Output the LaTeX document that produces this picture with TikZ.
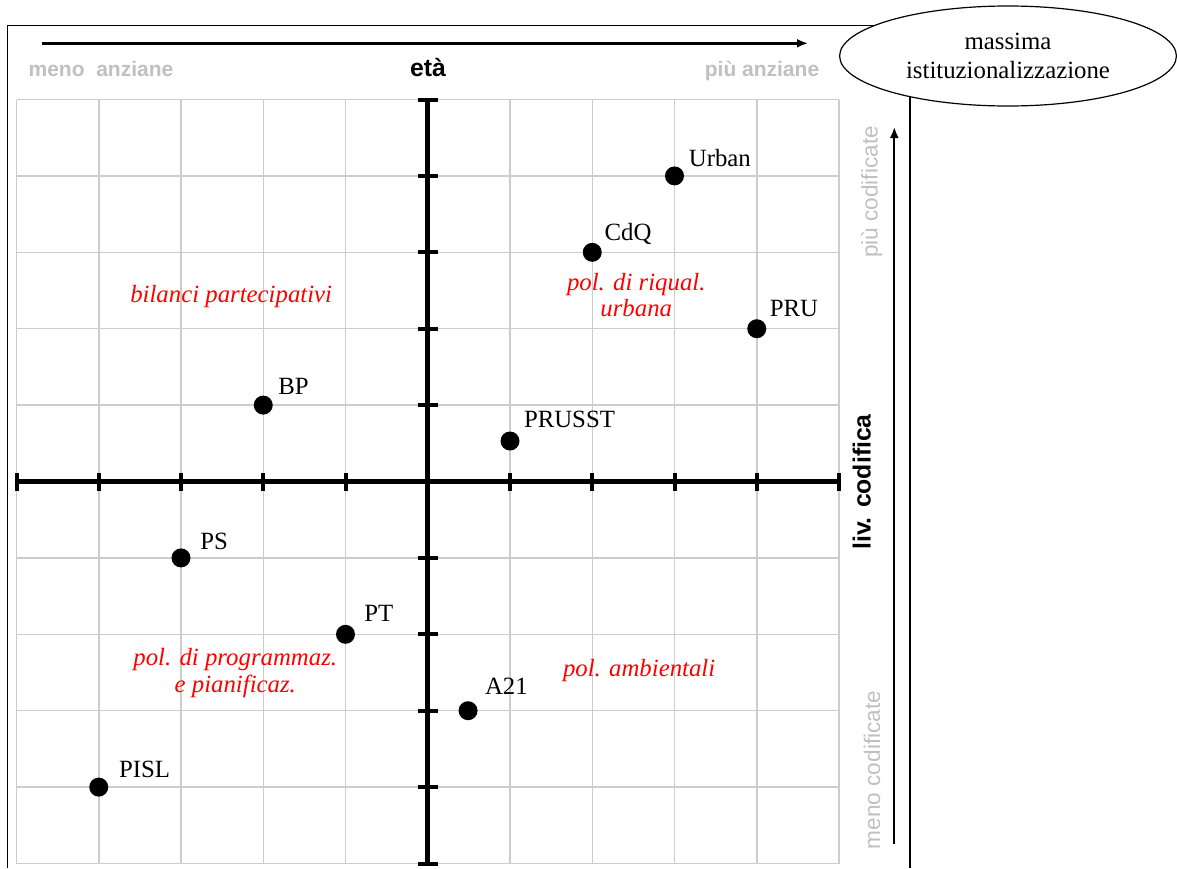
\documentclass[tikz,border=0pt]{standalone}
\usepackage{fontspec}
\setmainfont{Liberation Serif}
\setsansfont{Liberation Sans}
\usepackage{xcolor}
\usepackage{tikz}
\usetikzlibrary{arrows.meta, positioning, shapes.geometric}
\definecolor{gridgray}{RGB}{204,204,204}
\definecolor{softgray}{RGB}{192,192,192}

\begin{document}
\begin{tikzpicture}[
  x=0.5pt, y=-0.5pt,
  frame/.style={draw=black, line width=0.6pt},
  gridline/.style={draw=gridgray, line width=0.75pt},
  axis/.style={line width=2.5pt},
  tick/.style={line width=2pt},
  dot/.style={circle, fill=black, inner sep=0pt, minimum size=9.5pt},
  tag/.style={inner sep=0pt, text depth=0pt, font=\fontsize{12.4}{14}\selectfont},
  area/.style={inner sep=0pt, text=red, align=center, font=\fontsize{12.4}{13.4}\selectfont\itshape},
  ends/.style={inner sep=0pt, anchor=base, text=softgray, font=\sffamily\bfseries\fontsize{10.5}{12}\selectfont},
  levels/.style={inner sep=0pt, rotate=90, text=softgray, font=\sffamily\fontsize{11.3}{13}\selectfont},
  title/.style={inner sep=0pt, font=\sffamily\bfseries\fontsize{12.4}{14}\selectfont},
  arr/.style={-{Latex[length=5.5pt, width=4.5pt]}}
]
\useasboundingbox (0,0) rectangle (1177,868);

\draw[frame] (7.5,868) -- (7.5,25.5) -- (910,25.5) -- (910,868);
\node[ellipse, draw, line width=0.6pt, fill=white, minimum width=168.4pt, minimum height=50pt,
      inner sep=0pt, align=center, font=\fontsize{12.4}{14.5}\selectfont] (peak) at (1008,56)
      {massima\\istituzionalizzazione};

\coordinate (age-from) at (42,43.3);
\coordinate (age-to) at (808,43.3);
\draw[arr, line width=1.5pt] (age-from) -- (age-to);
\node[ends] (young) at (101,76) {meno\ \ anziane};
\node[title, anchor=base] (age) at (428,76) {età};
\node[ends] (old) at (762,76) {più anziane};

\coordinate (code-from) at (894.3,844);
\coordinate (code-to) at (894.3,127);
\draw[arr, line width=1pt] (code-from) -- (code-to);
\node[levels] (high) at (871.7,192) {più codificate};
\node[title, rotate=90] (code) at (861.7,482) {liv. codifica};
\node[levels] (low) at (872,770) {meno codificate};

\begin{scope}[shift={(427.75,481.5)}, x=41.125pt, y=38.2pt]
  \foreach \k in {-5,...,5} {
    \draw[gridline] (\k,-5) -- (\k,5);
    \draw[gridline] (-5,\k) -- (5,\k);
  }
  \draw[axis] (-5,0) -- (5,0);
  \draw[axis] (0,-5) -- (0,5);
  \foreach \k in {-5,...,5} {
    \draw[tick] (\k,0) ++(0,-4.5pt) -- ++(0,9pt);
    \draw[tick] (0,\k) ++(-5pt,0) -- ++(10pt,0);
  }

  \node[dot] (urban) at (3,4) {};
  \node[tag, above right=4.5pt and 7pt of urban.center] (urban-t) {Urban};
  \node[dot] (cdq) at (2,3) {};
  \node[tag, above right=5.5pt and 6pt of cdq.center] (cdq-t) {CdQ};
  \node[dot] (pru) at (4,2) {};
  \node[tag, above right=5.8pt and 6.3pt of pru.center] (pru-t) {PRU};
  \node[dot] (prusst) at (1,0.53) {};
  \node[tag, above right=6.5pt and 6.8pt of prusst.center] (prusst-t) {PRUSST};
  \node[dot] (bp) at (-2,1) {};
  \node[tag, above right=5pt and 7.3pt of bp.center] (bp-t) {BP};
  \node[dot] (ps) at (-3,-1) {};
  \node[tag, above right=4.2pt and 9.5pt of ps.center] (ps-t) {PS};
  \node[dot] (pt) at (-1,-2) {};
  \node[tag, above right=6pt and 9.2pt of pt.center] (pt-t) {PT};
  \node[dot] (a21) at (0.49,-3) {};
  \node[tag, above right=8pt and 8.3pt of a21.center] (a21-t) {A21};
  \node[dot] (pisl) at (-4,-4) {};
  \node[tag, above right=4.5pt and 10pt of pisl.center] (pisl-t) {PISL};

  \node[area, anchor=base] (bilanci) at (-2.39,2.34) {bilanci partecipativi};
  \node[area] (riqual) at (2.535,2.44) {pol. di riqual.\\urbana};
  \node[area] (program) at (-2.34,-2.51) {pol. di programmaz.\\e pianificaz.};
  \node[area, anchor=base] (ambient) at (2.57,-2.55) {pol. ambientali};
\end{scope}
\end{tikzpicture}
\end{document}
